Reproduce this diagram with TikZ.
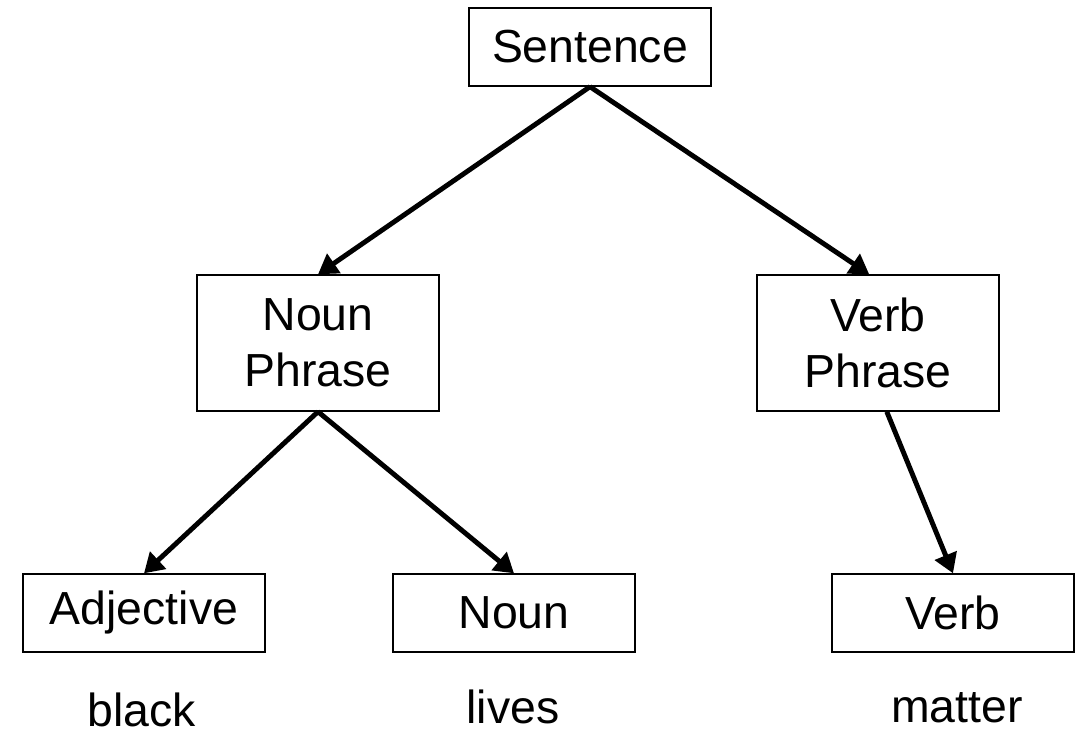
\documentclass[tikz,border=0pt]{standalone}
\usepackage{fontspec}
\setmainfont{Liberation Sans}
\usetikzlibrary{arrows.meta}

\begin{document}
\begin{tikzpicture}[
    x=0.02cm,
    y=-0.02cm,
    every node/.style={
        font=\fontsize{26.4}{31.7}\selectfont
    },
    phrase/.style={
        draw,
        line width=0.8pt,
        align=center,
        inner sep=0pt,
        minimum width=4.84cm,
        minimum height=2.72cm
    },
    word class/.style={
        draw,
        line width=0.8pt,
        inner sep=0pt,
        minimum width=4.84cm,
        minimum height=1.56cm
    },
    branch/.style={
        draw,
        line width=2.8pt,
        -{Triangle[length=11pt,width=13pt]}
    },
    ]
    \useasboundingbox (0,0) rectangle (1079,734);

    \node[word class] (sentence) at (590,47) {Sentence};
    \node[phrase] (noun phrase) at (318,343) {Noun\\Phrase};
    \node[phrase] (verb phrase) at (878,343) {Verb\\Phrase};
    \node[word class] (adjective) at (144,613) {Adjective};
    \node[word class] (noun) at (514,613) {Noun};
    \node[word class] (verb) at (953,613) {Verb};

    % example words under the word classes
    \node[anchor=base] (black) at (142,726) {black};
    \node[anchor=base] (lives) at (513,723) {lives};
    \node[anchor=base] (matter) at (957,722) {matter};

    \path[branch] (sentence.south) -- (noun phrase.north);
    \path[branch] (sentence.south) -- ([xshift=-5pt]verb phrase.north);
    \path[branch] (noun phrase.south) -- (adjective.north);
    \path[branch] (noun phrase.south) -- (noun.north);
    \path[branch] ([xshift=5pt]verb phrase.south) -- (verb.north);
\end{tikzpicture}
\end{document}
